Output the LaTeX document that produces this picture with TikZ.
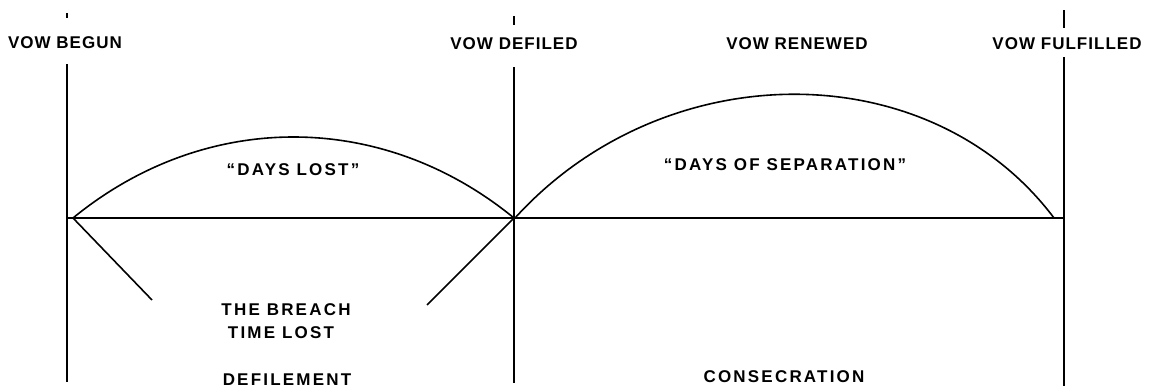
\documentclass[tikz,border=0pt]{standalone}
\usepackage{fontspec}
\newfontfamily\lbfont{Liberation Sans}[LetterSpace=6]
\newfontfamily\inlbfont{Liberation Sans}[LetterSpace=13]
\begin{document}
\begin{tikzpicture}[x=1pt,y=-1pt,
  ln/.style={line width=1.6pt, black},
  tick/.style={line width=1.6pt, black},
  lbl/.style={font=\lbfont\bfseries\fontsize{17}{20}\selectfont, inner sep=0pt, anchor=center},
  inlbl/.style={font=\inlbfont\bfseries\fontsize{17}{20}\selectfont, inner sep=0pt, anchor=center}]
\useasboundingbox[fill=white] (0,0) rectangle (1160,388);
% vertical markers
\coordinate (t1a) at (67,13);  \coordinate (t1b) at (67,18);
\coordinate (v1a) at (67,64);  \coordinate (v1b) at (67,382);
\coordinate (t2a) at (514,16); \coordinate (t2b) at (514,25);
\coordinate (v2a) at (514,67); \coordinate (v2b) at (514,383);
\coordinate (t3a) at (1064,10); \coordinate (t3b) at (1064,28);
\coordinate (v3a) at (1064,57); \coordinate (v3b) at (1064,386);
% baseline and arcs
\coordinate (bl) at (67,218);  \coordinate (br) at (1064,218);
\coordinate (a1s) at (73,218); \coordinate (a1e) at (514,218);
\coordinate (a2s) at (515,218); \coordinate (a2e) at (1054,218);
\coordinate (d1e) at (152,300); \coordinate (d2e) at (427,305);
\draw[tick] (t1a) -- (t1b);
\draw[tick] (t2a) -- (t2b);
\draw[tick] (t3a) -- (t3b);
\draw[ln] (v1a) -- (v1b);
\draw[ln] (v2a) -- (v2b);
\draw[ln] (v3a) -- (v3b);
\draw[ln] (bl) -- (br);
\draw[ln] (a1s) .. controls (205,110) and (382,110) .. (a1e);
\draw[ln] (a2s) .. controls (665,53) and (930,53) .. (a2e);
\draw[ln] (a1s) -- (d1e);
\draw[ln] (a1e) -- (d2e);
% labels
\node[lbl] (begun) at (65,43) {VOW BEGUN};
\node[lbl] (defiled) at (514,44) {VOW DEFILED};
\node[lbl] (renewed) at (797,44) {VOW RENEWED};
\node[lbl] (fulfilled) at (1067,44) {VOW FULFILLED};
\node[inlbl] (dayslost) at (293,170) {“DAYS LOST”};
\node[inlbl] (sep) at (785,165) {“DAYS OF SEPARATION”};
\node[inlbl] (breach) at (286,310) {THE BREACH};
\node[inlbl] (timelost) at (281,333) {TIME LOST};
\node[inlbl] (defile) at (287,380) {DEFILEMENT};
\node[inlbl] (consec) at (784,377) {CONSECRATION};
\end{tikzpicture}
\end{document}
